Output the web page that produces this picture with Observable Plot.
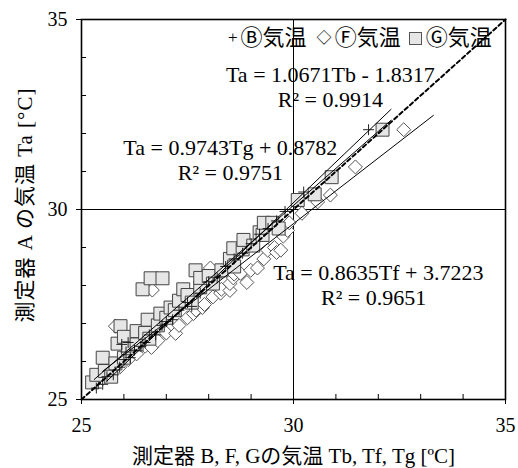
<!DOCTYPE html>
<html><head><meta charset="utf-8">
<script src="https://cdn.jsdelivr.net/npm/d3@7"></script>
<script src="https://cdn.jsdelivr.net/npm/@observablehq/plot@0.6"></script>
<style>
body{margin:0;background:#fff;}
#wrap{position:relative;width:518px;height:468px;}
#legend{position:absolute;left:226px;top:26px;font-family:"Liberation Serif","Noto Sans CJK JP",serif;font-size:22px;display:flex;align-items:center;white-space:nowrap;line-height:24px;color:#000}
#legend .sym{display:inline-block;margin:0 3px 0 2px}
#legend .sq{display:inline-block;width:11px;height:11px;background:#e6e6e6;border:1px solid #555;margin:0 4px 0 8px}
</style></head><body><div id="wrap"><div id="legend"></div></div>
<script>
// Ⓑ: (Tb, Ta)
const bPoints = [[25.35,25.3],[25.5,25.4],[25.6,25.6],[25.75,25.65],[25.9,25.85],[25.95,26.45],[26.0,26.05],[26.05,26.25],[26.1,26.5],[26.15,26.1],[26.25,26.3],[26.4,26.4],[26.5,26.5],[26.6,26.7],[26.75,26.7],[26.9,26.95],[27.0,27.05],[27.15,27.1],[27.3,27.35],[27.5,27.55],[27.6,27.45],[27.8,27.8],[28.0,28.1],[28.2,28.2],[28.4,28.5],[28.6,28.7],[28.8,28.85],[29.0,29.1],[29.2,29.35],[29.4,29.5],[29.6,29.7],[29.8,29.95],[30.24,30.46],[31.77,32.1]];
// Ⓕ: (Tf, Ta)
const fPoints = [[25.5,25.55],[25.7,25.75],[25.8,26.93],[25.9,25.85],[26.1,26.05],[26.3,26.2],[26.5,26.4],[26.65,26.37],[26.67,27.88],[26.8,26.55],[27.0,26.75],[27.22,26.74],[27.3,26.95],[27.5,27.15],[27.64,27.26],[27.7,27.35],[27.85,27.42],[27.9,27.5],[28.04,28.46],[28.1,27.7],[28.28,27.8],[28.3,27.9],[28.5,27.87],[28.5,28.05],[28.58,28.2],[28.6,28.3],[28.75,28.32],[28.9,28.08],[28.99,28.4],[29.15,28.46],[29.3,28.7],[29.39,28.93],[29.55,29.0],[29.6,28.87],[29.7,28.93],[29.76,29.3],[29.86,29.45],[29.9,29.65],[30.2,29.9],[30.57,30.2],[30.87,30.38],[31.46,31.12],[32.6,32.1]];
// Ⓖ: (Tg, Ta)
const gPoints = [[25.25,25.45],[25.35,25.65],[25.5,26.1],[25.55,25.75],[25.7,25.6],[25.8,25.95],[25.85,26.47],[25.92,26.93],[26.0,26.1],[26.0,26.65],[26.1,26.35],[26.3,26.45],[26.3,26.8],[26.44,27.9],[26.5,26.75],[26.56,27.1],[26.6,26.6],[26.63,28.19],[26.8,26.95],[26.86,27.26],[26.91,28.19],[27.0,27.15],[27.1,27.42],[27.2,27.35],[27.3,27.6],[27.4,27.9],[27.5,27.75],[27.6,27.55],[27.69,28.4],[27.8,27.95],[27.8,28.2],[28.0,28.25],[28.1,28.05],[28.3,28.4],[28.5,28.7],[28.58,28.98],[28.6,28.5],[28.8,28.95],[28.82,29.2],[29.05,29.05],[29.2,29.4],[29.27,29.33],[29.3,29.65],[29.5,29.65],[29.65,29.5],[30.1,30.25],[30.5,30.4],[30.9,30.85],[32.1,32.1]];

// trend lines: slope, intercept, x-range
const fitNames = ["B", "F", "G"];
const fitSlopes = [1.0671, 0.8635, 0.9743];
const fitIntercepts = [-1.8317, 3.7223, 0.8782];
const fitRanges = [[25.6, 32.3], [25.5, 33.3], [25.3, 32.3]];
const eqLabels = ["Ta = 1.0671Tb - 1.8317", "Ta = 0.8635Tf + 3.7223", "Ta = 0.9743Tg + 0.8782"];
const r2Labels = ["R² = 0.9914", "R² = 0.9651", "R² = 0.9751"];

const axisDomain = [25, 35];
const majorTicks = [25, 30, 35];
const minorTicks = [26, 27, 28, 29, 31, 32, 33, 34];
const legendLabels = ["Ⓑ気温", "Ⓕ気温", "Ⓖ気温"];
const xTitle = "測定器 B, F, Gの気温 Tb, Tf, Tg [ºC]";
const yTitle = "測定器 A の気温 Ta [°C]";

const W = 518, H = 468, mL = 81, mR = 13, mT = 19, mB = 69;
const FONT = '"Liberation Serif","Noto Sans CJK JP",serif';

const toObj = p => ({x: p[0], y: p[1]});
const fitData = fitNames.flatMap((n, i) => fitRanges[i].map(x => ({s: n, x, y: fitSlopes[i] * x + fitIntercepts[i]})));
const diag = axisDomain.map(v => ({x: v, y: v}));

const chart = Plot.plot({
  width: W, height: H,
  marginLeft: mL, marginRight: mR, marginTop: mT, marginBottom: mB,
  style: {fontFamily: FONT, fontSize: "20px", color: "black", background: "white", overflow: "visible"},
  x: {domain: axisDomain},
  y: {domain: axisDomain},
  marks: [
    Plot.ruleX([30], {stroke: "black", strokeWidth: 1}),
    Plot.ruleY([30], {stroke: "black", strokeWidth: 1}),
    Plot.dot(fPoints.map(toObj), {x: "x", y: "y", symbol: "diamond2", r: 6.3, fill: "white", stroke: "#555", strokeWidth: 1}),
    Plot.dot(gPoints.map(toObj), {x: "x", y: "y", symbol: "square", r: 7.3, fill: "#e6e6e6", stroke: "#444", strokeWidth: 1}),
    Plot.dot(bPoints.map(toObj), {x: "x", y: "y", symbol: "plus", r: 3.6, stroke: "#222", strokeWidth: 1}),
    Plot.line(fitData, {x: "x", y: "y", z: "s", stroke: "black", strokeWidth: 1}),
    Plot.line(diag, {x: "x", y: "y", stroke: "black", strokeWidth: 2, strokeDasharray: "4,3"}),
    Plot.tickX(minorTicks, {x: d => d, stroke: "black", strokeWidth: 1, insetTop: (H - mT - mB) - 5}),
    Plot.tickY(minorTicks, {y: d => d, stroke: "black", strokeWidth: 1, insetRight: (W - mL - mR) - 5}),
    Plot.axisX({ticks: majorTicks, tickSize: 5, tickPadding: 13, label: null, fontSize: 20}),
    Plot.axisY({ticks: majorTicks, tickSize: 5, tickPadding: 9, label: null, fontSize: 20}),
    Plot.frame({stroke: "black", strokeWidth: 1.6}),
    Plot.text([eqLabels[0]], {x: 30.87, y: 33.53, text: d => d, fontSize: 22}),
    Plot.text([r2Labels[0]], {x: 30.87, y: 32.87, text: d => d, fontSize: 22}),
    Plot.text([eqLabels[2]], {x: 28.51, y: 31.61, text: d => d, fontSize: 22}),
    Plot.text([r2Labels[2]], {x: 28.51, y: 30.97, text: d => d, fontSize: 22}),
    Plot.text([eqLabels[1]], {x: 32.0, y: 28.34, text: d => d, fontSize: 22}),
    Plot.text([r2Labels[1]], {x: 31.89, y: 27.68, text: d => d, fontSize: 22}),
    Plot.text([xTitle], {frameAnchor: "bottom", dy: 63, text: d => d, fontSize: 21, textAnchor: "middle"}),
    Plot.text([yTitle], {frameAnchor: "left", dx: -56, dy: -4, rotate: -90, text: d => d, fontSize: 21, textAnchor: "middle", lineAnchor: "middle"})
  ]
});
// stretch the y title to the reference's length
d3.select(chart).selectAll("text").filter(function() { return this.textContent === yTitle; })
  .attr("textLength", 234).attr("lengthAdjust", "spacing");

const wrap = document.getElementById("wrap");
wrap.insertBefore(chart, wrap.firstChild);

const leg = document.getElementById("legend");
const syms = ['<span class="sym" style="font-size:17px">+</span>', '<span class="sym" style="font-size:15px;margin-left:10px">◇</span>', '<span class="sq"></span>'];
leg.innerHTML = legendLabels.map((l, i) => syms[i] + '<span>' + l + '</span>').join("");
</script>
</body></html>
